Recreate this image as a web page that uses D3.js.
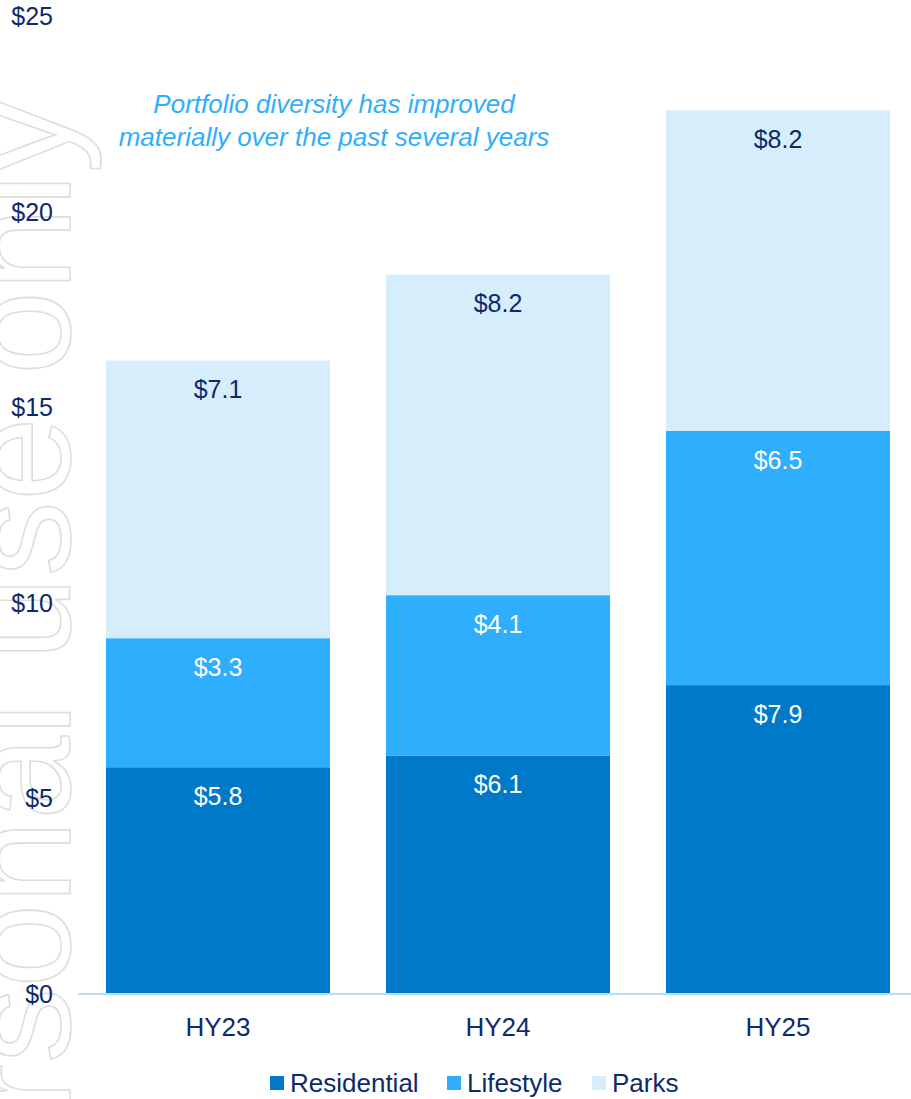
<!DOCTYPE html>
<html>
<head>
<meta charset="utf-8">
<script src="https://cdn.jsdelivr.net/npm/d3@7"></script>
<style>
  html, body { margin: 0; padding: 0; background: #fff; }
  svg { display: block; font-family: "Liberation Sans", Arial, Helvetica, sans-serif; }
</style>
</head>
<body>
<svg id="chart" width="911" height="1099"></svg>
<script>
// Half-year periods and segment values ($)
const periods = ["HY23", "HY24", "HY25"];
const seriesNames = ["Residential", "Lifestyle", "Parks"];
const residential = [5.8, 6.1, 7.9];
const lifestyle = [3.3, 4.1, 6.5];
const parks = [7.1, 8.2, 8.2];
const yTicks = [0, 5, 10, 15, 20, 25];
const noteLines = ["Portfolio diversity has improved", "materially over the past several years"];
const watermark = "For personal use only";

const colors = { Residential: "#0079c8", Lifestyle: "#30aefe", Parks: "#d6edfc" };
const labelColors = { Residential: "#ffffff", Lifestyle: "#ffffff", Parks: "#0d2a6b" };
const navy = "#0d2a6b";
const fontStack = "Liberation Sans, Arial, sans-serif";

const table = periods.map((p, i) => ({
  period: p, Residential: residential[i], Lifestyle: lifestyle[i], Parks: parks[i]
}));

const svg = d3.select("#chart");

// Watermark: outlined text running up the left edge
svg.append("text")
  .attr("transform", "translate(70,98) rotate(-90)")
  .attr("text-anchor", "end")
  .attr("font-size", 151)
  .attr("fill", "none")
  .attr("stroke", "#dddddd")
  .attr("stroke-width", 1.6)
  .text(watermark);

const x = d3.scaleBand().domain(periods).range([78, 918]).paddingInner(0.2).paddingOuter(0.1);
const y = d3.scaleLinear().domain([0, 25]).range([994, 16.5]);

// Y tick labels (no axis line)
const yAxis = svg.append("g")
  .attr("transform", "translate(53,0)")
  .call(d3.axisLeft(y).tickValues(yTicks).tickSize(0).tickPadding(0).tickFormat(d => "$" + d));
yAxis.select(".domain").remove();
yAxis.selectAll("text")
  .attr("font-size", 25)
  .attr("fill", navy)
  .attr("font-family", fontStack);

const stack = d3.stack().keys(seriesNames)(table);

const layers = svg.append("g").selectAll("g")
  .data(stack).join("g")
  .attr("fill", d => colors[d.key]);

layers.selectAll("rect")
  .data(d => d.map(s => ({ key: d.key, s })))
  .join("rect")
  .attr("x", d => x(d.s.data.period))
  .attr("width", x.bandwidth())
  .attr("y", d => y(d.s[1]))
  .attr("height", d => y(d.s[0]) - y(d.s[1]));

// Segment value labels, placed near the top of each segment
layers.selectAll("text")
  .data(d => d.map(s => ({ key: d.key, s })))
  .join("text")
  .attr("x", d => x(d.s.data.period) + x.bandwidth() / 2)
  .attr("y", d => y(d.s[1]) + 29)
  .attr("dy", "0.35em")
  .attr("text-anchor", "middle")
  .attr("font-size", 25)
  .attr("fill", d => labelColors[d.key])
  .text(d => "$" + (d.s[1] - d.s[0]).toFixed(1));

// Baseline
svg.append("line")
  .attr("x1", 78).attr("x2", 911)
  .attr("y1", y(0)).attr("y2", y(0))
  .attr("stroke", "#b9e0fb").attr("stroke-width", 2);

// Category labels
const xAxis = svg.append("g")
  .attr("transform", `translate(0,${y(0)})`)
  .call(d3.axisBottom(x).tickSize(0).tickPadding(24));
xAxis.select(".domain").remove();
xAxis.selectAll("text")
  .attr("font-size", 26)
  .attr("fill", navy)
  .attr("font-family", fontStack);

// Annotation
svg.append("text")
  .attr("x", 334).attr("y", 104)
  .attr("text-anchor", "middle")
  .attr("font-size", 26)
  .attr("font-style", "italic")
  .attr("fill", "#31aefb")
  .selectAll("tspan").data(noteLines).join("tspan")
  .attr("x", 334)
  .attr("dy", (d, i) => i === 0 ? "0.35em" : "1.27em")
  .text(d => d);

// Legend
const legendX = [270, 447, 592];
const legend = svg.append("g").selectAll("g")
  .data(seriesNames).join("g")
  .attr("transform", (d, i) => `translate(${legendX[i]},1083)`);
legend.append("rect")
  .attr("x", 0).attr("y", -7).attr("width", 14).attr("height", 14)
  .attr("fill", d => colors[d]);
legend.append("text")
  .attr("x", 20).attr("dy", "0.35em")
  .attr("font-size", 26)
  .attr("fill", navy)
  .text(d => d);
</script>
</body>
</html>
